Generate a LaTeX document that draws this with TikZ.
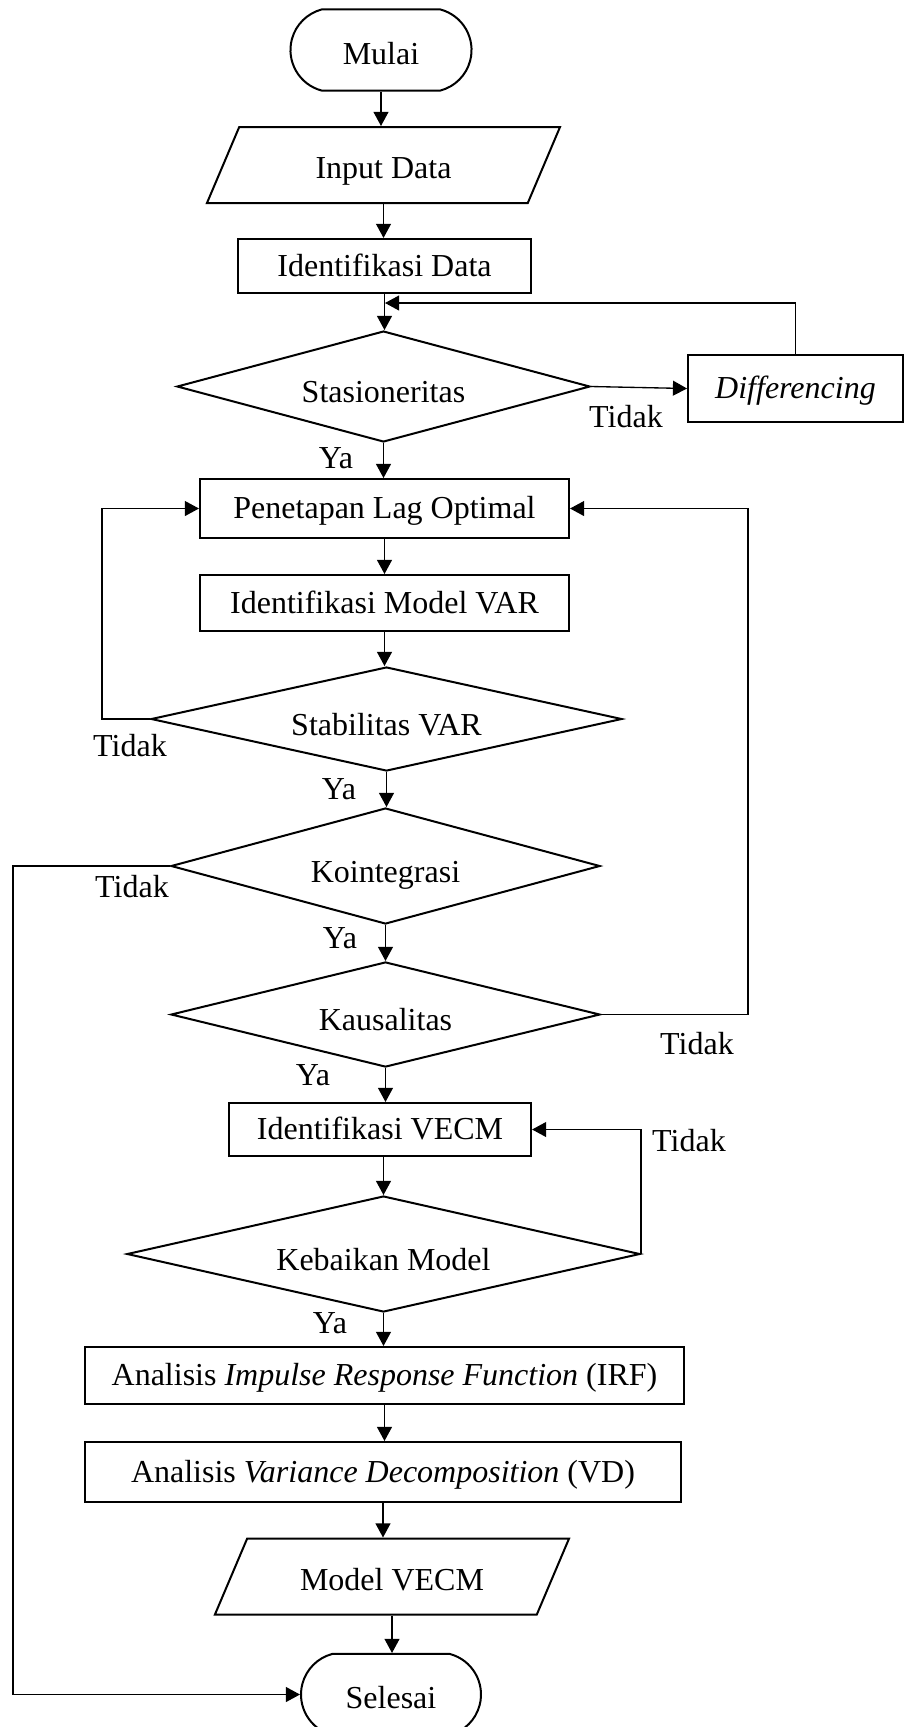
\documentclass[tikz,border=0pt]{standalone}
\usepackage{fontspec}
\setmainfont{Liberation Serif}
\usetikzlibrary{positioning,arrows.meta,shapes.geometric,shapes.misc}

\begin{document}
\begin{tikzpicture}[x=0.375pt,y=-0.375pt,font=\fontsize{12}{14}\selectfont,
  box/.style={draw,line width=0.75pt,inner sep=0pt},
  term/.style={box,rounded rectangle,rounded rectangle arc length=150,text height=10.8pt,text depth=0pt},
  proc/.style={box,rectangle,text height=10.4pt,text depth=2.6pt},
  io/.style={box,trapezium,trapezium left angle=67,trapezium right angle=113,trapezium stretches body,
    text height=13pt,text depth=2.6pt,inner ysep=6.45pt},
  dec/.style={box,diamond,aspect=4,text height=12.2pt,text depth=0pt},
  arr/.style={line width=0.5pt,-{Triangle[length=5.3pt,width=5.6pt]}},
  lbl/.style={inner sep=0pt}]
\useasboundingbox (0,0) rectangle (905,1727);
\node[term,minimum width=67.9pt,minimum height=30.4pt] (mulai) at (381,50) {Mulai};
\node[io,minimum width=132.4pt] (input) at (383.5,165) {Input Data};
\node[proc,minimum width=109.9pt,minimum height=20.3pt] (iddata) at (384.5,266) {Identifikasi Data};
\node[dec,minimum width=154.9pt,minimum height=41.6pt] (stas) at (383.5,386.5) {Stasioneritas};
\node[proc,minimum width=80.6pt,minimum height=25.1pt] (diff) at (795.5,388.5) {\textit{Differencing}};
\node[proc,minimum width=138.4pt,minimum height=22.1pt] (lag) at (384.5,508.5) {Penetapan Lag Optimal};
\node[proc,minimum width=138.4pt,minimum height=21pt] (idvar) at (384.5,603) {Identifikasi Model VAR};
\node[dec,minimum width=176.6pt,minimum height=39pt] (stab) at (386.5,719) {Stabilitas VAR};
\node[dec,minimum width=160.9pt,minimum height=43.5pt] (koin) at (385.5,866) {Kointegrasi};
\node[dec,minimum width=160.9pt,minimum height=39.4pt] (kaus) at (385.5,1014.5) {Kausalitas};
\node[proc,minimum width=113.3pt,minimum height=19.9pt] (idvecm) at (380,1129.5) {Identifikasi VECM};
\node[dec,minimum width=192.4pt,minimum height=43.5pt] (baik) at (383.5,1254) {Kebaikan Model};
\node[proc,minimum width=224.6pt,minimum height=21.4pt] (irf) at (384.5,1375.5) {Analisis \textit{Impulse Response Function} (IRF)};
\node[proc,minimum width=223.5pt,minimum height=22.5pt] (vd) at (383,1472) {Analisis \textit{Variance Decomposition} (VD)};
\node[io,minimum width=132.8pt] (model) at (392,1576.5) {Model VECM};
\node[term,minimum width=67.5pt,minimum height=30.4pt] (selesai) at (391,1694.5) {Selesai};
\coordinate (back) at (385,303);
\draw[arr] (mulai.south) -- (mulai.south |- input.north);
\draw[arr] (input.south) -- (input.south |- iddata.north);
\draw[arr] (iddata.south) -- (iddata.south |- stas.north);
\draw[arr] (diff.north) |- (back);
\draw[arr] (stas.east) -- (diff.west);
\draw[arr] (stas.south) -- (stas.south |- lag.north);
\draw[arr] (lag.south) -- (lag.south |- idvar.north);
\draw[arr] (idvar.south) -- (idvar.south |- stab.north);
\draw[arr] (stab.west) -- ++(-48,0) |- (lag.west);
\draw[arr] (stab.south) -- (stab.south |- koin.north);
\draw[arr] (koin.west) -- ++(-157,0) |- (selesai.west);
\draw[arr] (koin.south) -- (koin.south |- kaus.north);
\draw[arr] (kaus.east) -- ++(147,0) |- (lag.east);
\draw[arr] (kaus.south) -- (kaus.south |- idvecm.north);
\draw[arr] (baik.north |- idvecm.south) -- (baik.north);
\draw[arr] (baik.east) |- (idvecm.east);
\draw[arr] (baik.south) -- (baik.south |- irf.north);
\draw[arr] (irf.south) -- (irf.south |- vd.north);
\draw[arr] (vd.south) -- (vd.south |- model.north);
\draw[arr] (model.south) -- (model.south |- selesai.north);
\node[lbl] (t1) at (626,417) {Tidak};
\node[lbl] (y1) at (336,458) {Ya};
\node[lbl] (t2) at (130,746) {Tidak};
\node[lbl] (y2) at (339,789) {Ya};
\node[lbl] (t3) at (132,887) {Tidak};
\node[lbl] (y3) at (340,938) {Ya};
\node[lbl] (t4) at (697,1044) {Tidak};
\node[lbl] (y4) at (313,1075) {Ya};
\node[lbl] (t5) at (689,1141) {Tidak};
\node[lbl] (y5) at (330,1323) {Ya};
\end{tikzpicture}
\end{document}
